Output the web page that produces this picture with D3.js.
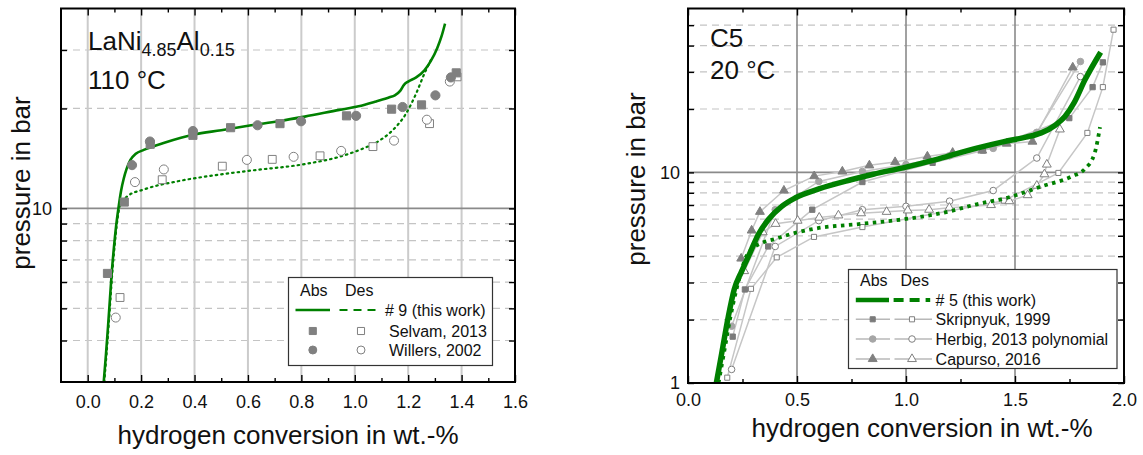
<!DOCTYPE html>
<html><head><meta charset="utf-8">
<script src="https://cdn.jsdelivr.net/npm/d3@7"></script>
<style>
body{margin:0;background:#fff}
svg{display:block}
text{font-family:"Liberation Sans",Arial,sans-serif;fill:#111}
</style>
</head><body>
<svg id="c" width="1143" height="455"></svg>
<script>
// ================= LEFT PANEL: LaNi4.85Al0.15, 110 °C =================
const leftXTicks = [0, 0.2, 0.4, 0.6, 0.8, 1.0, 1.2, 1.4, 1.6];
const leftXMinor = [0.1, 0.3, 0.5, 0.7, 0.9, 1.1, 1.3, 1.5];
const leftVGrid = [0, 0.2, 0.4, 0.6, 0.8, 1.0, 1.2, 1.4];
const leftYTicks = [4, 5, 6, 7, 8, 9, 10, 20, 30];
const leftYLabels = [10];

const leftAbsLine = [[0.060,3.0],[0.068,3.6],[0.076,4.4],[0.083,5.3],[0.090,6.4],[0.098,7.6],[0.106,8.8],[0.115,10.0],[0.125,11.3],[0.135,12.3],[0.145,13.1],[0.160,14.0],[0.180,14.6],[0.210,15.0],[0.290,15.8],[0.398,16.7],[0.500,17.2],[0.612,17.8],[0.713,18.3],[0.813,18.9],[0.942,19.8],[1.014,20.3],[1.080,21.0],[1.130,21.6],[1.150,21.9],[1.170,22.6],[1.185,23.6],[1.200,24.1],[1.230,24.8],[1.260,26.0],[1.285,27.8],[1.309,30.4],[1.325,33.0],[1.338,36.0]];
const leftDesLine = [[0.062,3.0],[0.070,3.6],[0.078,4.4],[0.085,5.3],[0.092,6.4],[0.100,7.6],[0.108,8.8],[0.117,9.9],[0.128,10.4],[0.150,10.9],[0.210,11.4],[0.344,12.1],[0.480,12.6],[0.612,13.0],[0.813,13.6],[0.942,14.3],[1.018,15.0],[1.092,16.0],[1.142,17.2],[1.192,19.3],[1.230,22.2],[1.261,25.5],[1.290,28.5]];
const selvamAbs = [[0.074,6.37],[0.137,10.45],[0.234,15.6],[0.394,16.6],[0.535,17.5],[0.720,18.0],[0.969,19.0],[1.138,19.9],[1.250,20.5],[1.380,25.6]];
const willersAbs = [[0.166,13.5],[0.233,15.9],[0.394,17.1],[0.636,17.8],[0.799,18.3],[1.005,19.0],[1.179,20.2],[1.302,21.9],[1.360,24.8]];
const selvamDes = [[0.121,5.39],[0.279,12.2],[0.504,13.4],[0.691,14.05],[0.870,14.4],[1.068,15.35],[1.280,18.0],[1.383,24.9]];
const willersDes = [[0.105,4.69],[0.177,12.0],[0.285,13.1],[0.596,14.0],[0.771,14.3],[0.949,14.9],[1.147,16.0],[1.270,18.5],[1.356,24.1]];

// ================= RIGHT PANEL: C5, 20 °C =================
const rightXTicks = [0, 0.5, 1.0, 1.5, 2.0];
const rightXMinor = [0.25, 0.75, 1.25, 1.75];
const rightVGrid = [0.5, 1.0, 1.5];
const rightYTicks = [1, 2, 3, 4, 5, 6, 7, 8, 9, 10, 20, 30, 40, 50];
const rightYLabels = [1, 10];

const rightAbsLine = [[0.130,1.0],[0.155,1.39],[0.185,2.07],[0.212,2.78],[0.246,3.39],[0.284,4.14],[0.322,5.06],[0.368,5.96],[0.430,6.9],[0.491,7.56],[0.600,8.35],[0.743,9.2],[0.850,9.8],[1.000,10.6],[1.150,11.6],[1.320,13.0],[1.450,14.0],[1.550,14.7],[1.620,15.4],[1.683,16.7],[1.729,18.4],[1.770,21.3],[1.821,27.5],[1.893,37.2]];
const rightDesLine = [[0.140,1.0],[0.165,1.39],[0.195,2.07],[0.222,2.78],[0.245,3.4],[0.261,3.85],[0.300,4.38],[0.338,4.62],[0.399,4.83],[0.491,5.16],[0.575,5.39],[0.804,5.71],[1.000,6.01],[1.199,6.53],[1.317,7.03],[1.469,7.6],[1.622,8.58],[1.760,9.57],[1.821,10.4],[1.865,12.3],[1.890,16.4]];
const skripAbs = [[0.205,1.66],[0.261,2.78],[0.368,4.45],[0.570,6.65],[0.800,9.0],[1.122,11.1],[1.353,12.7],[1.749,18.1],[1.856,25.4],[1.903,33.3]];
const skripDes = [[0.180,1.06],[0.289,2.8],[0.407,3.95],[0.578,4.94],[0.800,5.5],[1.449,7.34],[1.699,9.94],[1.832,15.4],[1.903,25.4],[1.952,47.6]];
const herbigAbs = [[0.2,1.86],[0.4,6.65],[0.6,9.06],[0.8,10.1],[1.0,10.9],[1.2,12.0],[1.4,13.0],[1.6,15.5],[1.8,33.6]];
const herbigDes = [[0.2,1.16],[0.4,4.45],[0.6,5.9],[0.8,6.65],[1.0,6.9],[1.2,7.3],[1.4,8.2],[1.6,11.7],[1.8,28.5]];
const capursoAbs = [[0.244,3.9],[0.292,5.3],[0.330,6.5],[0.440,8.2],[0.579,9.6],[0.708,10.1],[0.832,10.8],[0.950,11.2],[1.098,11.9],[1.214,12.4],[1.350,12.7],[1.462,13.7],[1.580,14.0],[1.765,31.5]];
const capursoDes = [[0.258,3.4],[0.343,5.2],[0.402,5.7],[0.503,5.9],[0.602,6.1],[0.690,6.25],[0.794,6.4],[0.911,6.5],[1.008,6.6],[1.106,6.65],[1.199,6.8],[1.390,7.0],[1.474,7.3],[1.558,7.8],[1.600,8.65],[1.635,9.8],[1.646,10.9],[1.706,16.0]];

// ================= DRAWING =================
const GREEN = "#008000";
const svg = d3.select("#c");
const FONT = '"Liberation Sans",Arial,sans-serif';

function makePanel(cfg) {
  const x = d3.scaleLinear().domain(cfg.xDomain).range(cfg.xRange);
  const y = d3.scaleLog().domain(cfg.yDomain).range(cfg.yRange);
  const [x0, x1] = cfg.xRange, [yb, yt] = cfg.yRange;
  const g = svg.append("g");
  g.append("g").selectAll("line").data(cfg.yTicks.filter(d => d !== 10 && d !== cfg.yDomain[0])).join("line")
    .attr("x1", x0).attr("x2", x1).attr("y1", d => y(d)).attr("y2", d => y(d))
    .attr("stroke", "#c4c4c4").attr("stroke-width", 1.2).attr("stroke-dasharray", "7,5");
  g.append("g").selectAll("line").data(cfg.vGrid).join("line")
    .attr("x1", d => x(d)).attr("x2", d => x(d)).attr("y1", yt).attr("y2", yb)
    .attr("stroke", cfg.vGridColor).attr("stroke-width", cfg.vGridWidth);
  g.append("line").attr("x1", x0).attr("x2", x1).attr("y1", y(10)).attr("y2", y(10))
    .attr("stroke", "#8a8a8a").attr("stroke-width", 1.6);
  return {x, y, g, x0, x1, yb, yt};
}

function styleAxis(sel) {
  sel.select(".domain").remove();
  sel.attr("font-family", FONT).attr("font-size", 18);
  sel.selectAll("line").attr("stroke", "#000").attr("stroke-width", 1.4);
  sel.selectAll("text").attr("fill", "#111");
}

function drawAxes(p, cfg) {
  const {x, y, g, x0, x1, yb, yt} = p;
  const fmtX = d3.format(".1f");
  g.append("g").attr("transform", `translate(0,${yb})`)
    .call(d3.axisBottom(x).tickValues(cfg.xTicks).tickSize(-7).tickPadding(cfg.xPad).tickFormat(fmtX)).call(styleAxis);
  g.append("g").attr("transform", `translate(0,${yb})`)
    .call(d3.axisBottom(x).tickValues(cfg.xMinor).tickSize(-4).tickFormat("")).call(styleAxis);
  g.append("g").attr("transform", `translate(0,${yt})`)
    .call(d3.axisTop(x).tickValues(cfg.xTicks).tickSize(-7).tickFormat("")).call(styleAxis);
  g.append("g").attr("transform", `translate(0,${yt})`)
    .call(d3.axisTop(x).tickValues(cfg.xMinor).tickSize(-4).tickFormat("")).call(styleAxis);
  g.append("g").attr("transform", `translate(${x0},0)`)
    .call(d3.axisLeft(y).tickValues(cfg.yTicks).tickSize(-6).tickPadding(cfg.yPad)
      .tickFormat(d => cfg.yLabels.includes(d) ? String(d) : "")).call(styleAxis);
  g.append("g").attr("transform", `translate(${x1},0)`)
    .call(d3.axisRight(y).tickValues(cfg.yTicks).tickSize(-6).tickFormat("")).call(styleAxis);
  g.append("rect").attr("x", x0).attr("y", yt).attr("width", x1 - x0).attr("height", yb - yt)
    .attr("fill", "none").attr("stroke", "#000").attr("stroke-width", 2);
}

function marker(g, data, x, y, type, size, fill, stroke) {
  g.append("g").selectAll("path").data(data).join("path")
    .attr("transform", d => `translate(${x(d[0])},${y(d[1])})`)
    .attr("d", d3.symbol().type(type).size(size))
    .attr("fill", fill).attr("stroke", stroke).attr("stroke-width", 1);
}

// ---------- Left ----------
const L = makePanel({xDomain: [-0.1, 1.6], xRange: [61, 515], yDomain: [3, 40], yRange: [382, 8.5],
  yTicks: leftYTicks, vGrid: leftVGrid, vGridColor: "#cbcbcb", vGridWidth: 2});
{
  const line = d3.line().x(d => L.x(d[0])).y(d => L.y(d[1])).curve(d3.curveMonotoneX);
  L.g.append("path").datum(leftDesLine).attr("d", line).attr("fill", "none").attr("stroke", GREEN)
    .attr("stroke-width", 2.2).attr("stroke-dasharray", "1.5,4").attr("stroke-linecap", "round");
  L.g.append("path").datum(leftAbsLine).attr("d", line).attr("fill", "none").attr("stroke", GREEN).attr("stroke-width", 2.6);
  marker(L.g, selvamDes, L.x, L.y, d3.symbolSquare, 62, "#fff", "#808080");
  marker(L.g, willersDes, L.x, L.y, d3.symbolCircle, 64, "#fff", "#808080");
  marker(L.g, selvamAbs, L.x, L.y, d3.symbolSquare, 66, "#808080", "#808080");
  marker(L.g, willersAbs, L.x, L.y, d3.symbolCircle, 66, "#808080", "#808080");
}
drawAxes(L, {xTicks: leftXTicks, xMinor: leftXMinor, yTicks: leftYTicks, yLabels: leftYLabels, xPad: 13, yPad: 9});

// ---------- Right ----------
const R = makePanel({xDomain: [0, 2], xRange: [688, 1124], yDomain: [1, 60], yRange: [383, 8.5],
  yTicks: rightYTicks, vGrid: rightVGrid, vGridColor: "#8a8a8a", vGridWidth: 1.6});
{
  const gl = d3.line().x(d => R.x(d[0])).y(d => R.y(d[1]));
  [skripAbs, skripDes, herbigAbs, herbigDes, capursoAbs, capursoDes].forEach(s => {
    R.g.append("path").datum(s).attr("d", gl).attr("fill", "none").attr("stroke", "#c6c6c6").attr("stroke-width", 1.5);
  });
  marker(R.g, skripAbs, R.x, R.y, d3.symbolSquare, 28, "#7a7a7a", "#7a7a7a");
  marker(R.g, skripDes, R.x, R.y, d3.symbolSquare, 26, "#fff", "#808080");
  marker(R.g, herbigAbs, R.x, R.y, d3.symbolCircle, 34, "#a6a6a6", "#a6a6a6");
  marker(R.g, herbigDes, R.x, R.y, d3.symbolCircle, 34, "#fff", "#808080");
  marker(R.g, capursoAbs, R.x, R.y, d3.symbolTriangle, 34, "#808080", "#808080");
  marker(R.g, capursoDes, R.x, R.y, d3.symbolTriangle, 34, "#fff", "#808080");
  const line = d3.line().x(d => R.x(d[0])).y(d => R.y(d[1])).curve(d3.curveMonotoneX);
  R.g.append("path").datum(rightDesLine).attr("d", line).attr("fill", "none").attr("stroke", GREEN)
    .attr("stroke-width", 3.8).attr("stroke-dasharray", "3.5,4.5");
  R.g.append("path").datum(rightAbsLine).attr("d", line).attr("fill", "none").attr("stroke", GREEN).attr("stroke-width", 5.5);
}
drawAxes(R, {xTicks: rightXTicks, xMinor: rightXMinor, yTicks: rightYTicks, yLabels: rightYLabels, xPad: 10, yPad: 8});

// ---------- Titles & annotations ----------
function txt(x, y, s, size, anchor) {
  return svg.append("text").attr("x", x).attr("y", y).attr("font-size", size)
    .attr("text-anchor", anchor || "start").text(s);
}
{
  const t = svg.append("text").attr("x", 88).attr("y", 50).attr("font-size", 26);
  t.append("tspan").text("LaNi");
  t.append("tspan").attr("dy", 6).attr("font-size", 18).text("4.85");
  t.append("tspan").attr("dy", -6).text("Al");
  t.append("tspan").attr("dy", 6).attr("font-size", 18).text("0.15");
}
txt(88, 89, "110 °C", 26);
txt(710, 47, "C5", 26);
txt(710, 79, "20 °C", 26);

txt(288, 444, "hydrogen conversion in wt.-%", 26, "middle");
txt(922, 437, "hydrogen conversion in wt.-%", 26, "middle");
svg.append("text").attr("transform", "translate(30,183) rotate(-90)").attr("font-size", 26)
  .attr("text-anchor", "middle").text("pressure in bar");
svg.append("text").attr("transform", "translate(645,179) rotate(-90)").attr("font-size", 26)
  .attr("text-anchor", "middle").text("pressure in bar");

// ---------- Left legend ----------
{
  const g = svg.append("g");
  g.append("rect").attr("x", 288.5).attr("y", 277.5).attr("width", 204).attr("height", 88)
    .attr("fill", "#fff").attr("stroke", "#333").attr("stroke-width", 1.2);
  const t = (x, y, s) => g.append("text").attr("x", x).attr("y", y).attr("font-size", 16).text(s);
  t(300, 296, "Abs"); t(345, 296, "Des");
  g.append("line").attr("x1", 295.5).attr("x2", 330).attr("y1", 310).attr("y2", 310).attr("stroke", GREEN).attr("stroke-width", 2.5);
  g.append("line").attr("x1", 339.5).attr("x2", 375.5).attr("y1", 310).attr("y2", 310).attr("stroke", GREEN).attr("stroke-width", 2).attr("stroke-dasharray", "8,6");
  t(385, 315.5, "# 9 (this work)");
  const sym = (cx, cy, type, fill, stroke) => g.append("path").attr("transform", `translate(${cx},${cy})`)
    .attr("d", d3.symbol().type(type).size(50)).attr("fill", fill).attr("stroke", stroke);
  sym(312.8, 331, d3.symbolSquare, "#808080", "#808080");
  sym(361, 331, d3.symbolSquare, "#fff", "#808080");
  t(389, 336.5, "Selvam, 2013");
  sym(312.8, 350, d3.symbolCircle, "#808080", "#808080");
  sym(361, 350, d3.symbolCircle, "#fff", "#808080");
  t(389, 355.5, "Willers, 2002");
}

// ---------- Right legend ----------
{
  const g = svg.append("g");
  g.append("rect").attr("x", 848.5).attr("y", 269.5).attr("width", 268.5).attr("height", 99)
    .attr("fill", "#fff").attr("stroke", "#333").attr("stroke-width", 1.2);
  const t = (x, y, s) => g.append("text").attr("x", x).attr("y", y).attr("font-size", 16).text(s);
  t(860, 285.7, "Abs"); t(900.5, 285.7, "Des");
  g.append("line").attr("x1", 855.8).attr("x2", 889).attr("y1", 300).attr("y2", 300).attr("stroke", GREEN).attr("stroke-width", 4.5);
  g.append("line").attr("x1", 893.6).attr("x2", 930.2).attr("y1", 300).attr("y2", 300).attr("stroke", GREEN).attr("stroke-width", 3.8).attr("stroke-dasharray", "10,6");
  t(935.6, 305.5, "# 5 (this work)");
  const rows = [
    {y: 319.3, type: d3.symbolSquare, size: 26, fill: "#7a7a7a", label: "Skripnyuk, 1999"},
    {y: 339, type: d3.symbolCircle, size: 34, fill: "#a6a6a6", label: "Herbig, 2013 polynomial"},
    {y: 359, type: d3.symbolTriangle, size: 34, fill: "#808080", label: "Capurso, 2016"}
  ];
  rows.forEach(r => {
    g.append("line").attr("x1", 855.8).attr("x2", 890).attr("y1", r.y).attr("y2", r.y).attr("stroke", "#b8b8b8").attr("stroke-width", 1.5);
    g.append("line").attr("x1", 894.5).attr("x2", 932).attr("y1", r.y).attr("y2", r.y).attr("stroke", "#b8b8b8").attr("stroke-width", 1.5);
    g.append("path").attr("transform", `translate(872.7,${r.y})`).attr("d", d3.symbol().type(r.type).size(r.size))
      .attr("fill", r.fill).attr("stroke", r.fill);
    g.append("path").attr("transform", `translate(912,${r.y})`).attr("d", d3.symbol().type(r.type).size(r.size))
      .attr("fill", "#fff").attr("stroke", "#808080");
    t(935.6, r.y + 5.5, r.label);
  });
}
</script>
</body></html>
